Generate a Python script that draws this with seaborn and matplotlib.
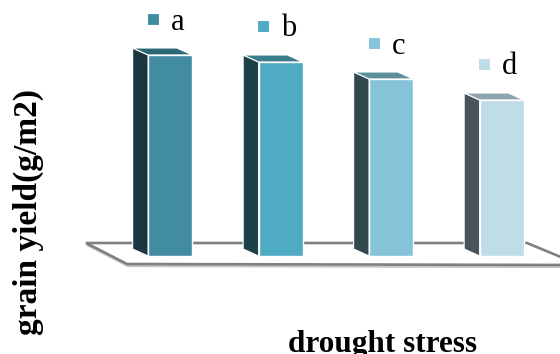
import numpy as np
import pandas as pd
import seaborn as sns
import matplotlib
matplotlib.use("Agg")
import matplotlib.pyplot as plt
from matplotlib.patches import Polygon
from matplotlib import transforms

# grain yield per drought-stress level (g/m2)
treatments = ["a", "b", "c", "d"]
grain_yield = [402, 388, 354, 312]

front_colors = ["#418ca1", "#4faac3", "#85c4d8", "#bedde7"]
side_colors = ["#1b3640", "#1e4049", "#31484f", "#49545a"]
top_colors = ["#2e6877", "#3a7d8d", "#5e909c", "#8ca5ae"]

W, H, DPI = 560, 354, 100

sns.set_theme(style="white")
plt.rcParams["font.family"] = ["Liberation Serif", "DejaVu Serif"]
plt.rcParams["text.color"] = "black"
plt.rcParams["axes.labelcolor"] = "black"

fig = plt.figure(figsize=(W / DPI, H / DPI), dpi=DPI)
ax = fig.add_axes([115 / W, (H - 256) / H, 442 / W, 256 / H])
ax.set_facecolor("none")

df = pd.DataFrame({"treatment": treatments, "grain_yield": grain_yield})
sns.barplot(data=df, x="treatment", y="grain_yield", hue="treatment",
            palette=front_colors, saturation=1, width=0.4, legend=False,
            ax=ax, edgecolor="white", linewidth=1.0, zorder=3)
ax.set_xlim(-0.5, 3.5)
ax.set_ylim(0, 512)

# oblique depth of each box, expressed in data units
px_x = 1.0 / 110.5
px_y = 512 / 256
depth_dx = -15.5 * px_x
depth_dy = 7 * px_y

for bar, sc, tc, fc, lab in zip(ax.patches, side_colors, top_colors,
                                front_colors, treatments):
    x0 = bar.get_x()
    w = bar.get_width()
    h = bar.get_height()
    x1 = x0 + w
    side = Polygon([(x0, 0), (x0 + depth_dx, depth_dy),
                    (x0 + depth_dx, h + depth_dy), (x0, h)],
                   closed=True, facecolor=sc, edgecolor="white",
                   linewidth=0.8, zorder=2, clip_on=False)
    top = Polygon([(x0, h), (x0 + depth_dx, h + depth_dy),
                   (x1 + depth_dx, h + depth_dy), (x1, h)],
                  closed=True, facecolor=tc, edgecolor="white",
                  linewidth=0.8, zorder=2, clip_on=False)
    ax.add_patch(side)
    ax.add_patch(top)

    cx = x0 + w / 2
    mtrans = transforms.offset_copy(ax.transData, fig=fig, x=-17.5, y=36,
                                    units="dots")
    ax.plot([cx], [h], marker="s", ms=8, color=fc, mec="white", mew=0.8,
            transform=mtrans, clip_on=False, zorder=4)
    ax.annotate(lab, xy=(cx, h), xytext=(7.5, 25.5), textcoords="offset pixels",
                ha="center", va="baseline", fontsize=22, color="black",
                annotation_clip=False)

# floor under the boxes, in figure pixels
px = transforms.Affine2D().scale(1 / W, -1 / H).translate(0, 1) + fig.transFigure
floor_pts = [(86, 243), (527, 243), (580, 265), (127, 264)]
shadow = Polygon([(x + 1, y + 2) for x, y in floor_pts], closed=True,
                 facecolor="none", edgecolor="#c4c4c4", linewidth=1.6,
                 transform=px, zorder=-2)
floor = Polygon(floor_pts, closed=True, facecolor="white",
                edgecolor="#808080", linewidth=1.9, transform=px, zorder=-1)
fig.add_artist(shadow)
fig.add_artist(floor)

for s in ax.spines.values():
    s.set_visible(False)
ax.set_xticks([])
ax.set_yticks([])
ax.set_xlabel("drought stress", fontsize=22.5, fontweight="bold", color="black")
ax.set_ylabel("grain yield(g/m2)", fontsize=24, fontweight="bold", color="black")
ax.xaxis.set_label_coords((382 - 115) / 442, (256 - 330) / 256)
ax.yaxis.set_label_coords((44 - 115) / 442, (256 - 212) / 256)

fig.savefig("out.png", dpi=DPI)
